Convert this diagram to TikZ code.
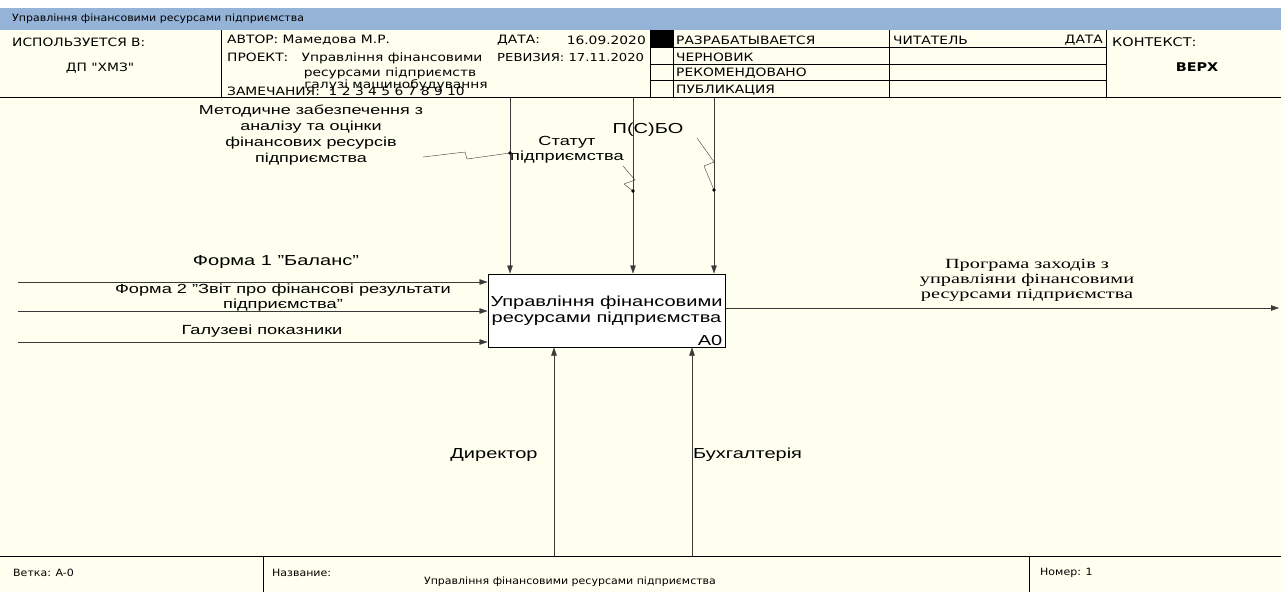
\documentclass[tikz,border=0pt]{standalone}
\usepackage{fontspec}
\setmainfont{Liberation Sans}[FakeStretch=1.38]
\newfontfamily\hdfont{DejaVu Sans}[FakeStretch=1.2]
\newfontfamily\ftfont{DejaVu Sans}[FakeStretch=1.1]
\newfontfamily\serfont{Liberation Serif}[FakeStretch=1.45]
\usetikzlibrary{arrows.meta,positioning,calc}
\definecolor{cream}{HTML}{FFFFF0}
\definecolor{barblue}{HTML}{95B3D7}
\definecolor{wire}{HTML}{3A3A3A}

\begin{document}
\begin{tikzpicture}[x=1pt,y=-1pt,
  arr/.style={wire, -{Triangle[length=8pt,width=5.5pt]}},
  lbl/.style={font=\fontsize{14.5}{15.5}\selectfont, align=center, inner sep=0pt},
  sml/.style={lbl, font=\fontsize{13.2}{15.5}\selectfont},
  hd/.style={font=\hdfont\fontsize{11.5}{12}\selectfont, inner sep=0pt, anchor=west},
  ft/.style={font=\ftfont\fontsize{10}{11}\selectfont, inner sep=0pt, anchor=west},
  zig/.style={wire, thin}]
  \useasboundingbox (0,0) rectangle (1281,592);
  \fill[white] (0,0) rectangle (1281,592);
  \fill[cream] (0,30) rectangle (1281,592);
  \fill[barblue] (0,8) rectangle (1281,30);
  \node[ft] (bar) at (12,19) {Управління фінансовими ресурсами підприємства};

  % title block
  \draw[thick] (0,97) -- (1281,97);
  \foreach \x in {221,650,673,889,1106} \draw (\x,30) -- (\x,97);
  \foreach \y in {47.5,64,80.5} \draw (650,\y) -- (1106,\y);
  \fill (650,30) rectangle (673,47.5);
  \node[hd] (used) at (12,42) {ИСПОЛЬЗУЕТСЯ В:};
  \node[hd, anchor=center] (dp) at (100,68) {ДП "ХМЗ"};
  \node[hd] (author) at (227,40) {АВТОР: Мамедова М.Р.};
  \node[hd] (proj) at (227,57) {ПРОЕКТ:};
  \node[hd, anchor=center] (pname) at (392,58) {Управління фінансовими};
  \node[hd, anchor=center] (pname2) at (390,73) {ресурсами підприємств};
  \node[hd, anchor=center] (pname3) at (396,85) {галузі машинобудування};
  \node[hd] (notes) at (227,91) {ЗАМЕЧАНИЯ:\ \ 1\ 2\ 3\ 4\ 5\ 6\ 7\ 8\ 9\ 10};
  \node[hd] (date) at (497,40) {ДАТА:};
  \node[hd, anchor=east] (dateval) at (646,40) {16.09.2020};
  \node[hd, font=\hdfont\fontsize{11}{12}\selectfont] (rev) at (497,57) {РЕВИЗИЯ: 17.11.2020};
  \node[hd] (st1) at (676,40) {РАЗРАБАТЫВАЕТСЯ};
  \node[hd] (st2) at (676,57) {ЧЕРНОВИК};
  \node[hd] (st3) at (676,73) {РЕКОМЕНДОВАНО};
  \node[hd] (st4) at (676,90) {ПУБЛИКАЦИЯ};
  \node[hd] (reader) at (893,40) {ЧИТАТЕЛЬ};
  \node[hd, anchor=east] (rdate) at (1103,40) {ДАТА};
  \node[hd, font=\hdfont\fontsize{12}{14}\selectfont] (ctx) at (1112,42) {КОНТЕКСТ:};
  \node[hd, anchor=center, font=\hdfont\bfseries\fontsize{12}{14}\selectfont] (top) at (1197,67) {ВЕРХ};

  % footer
  \draw[thick] (0,556) -- (1281,556);
  \foreach \x in {263,1029} \draw (\x,556) -- (\x,592);
  \node[ft] (branch) at (13,573) {Ветка: A-0};
  \node[ft] (nm) at (272,573) {Название:};
  \node[ft, anchor=center] (nmval) at (570,582) {Управління фінансовими ресурсами підприємства};
  \node[ft] (num) at (1040,573) {Номер: 1};

  % activity box
  \node[draw, line width=1pt, fill=white, minimum width=237pt, minimum height=73pt, inner sep=0pt,
        lbl] (a0) at (606.5,310.5) {Управління фінансовими\\ресурсами підприємства};
  \node[lbl, anchor=south east] at ([shift={(-3,-2)}]a0.south east) {A0};

  % inputs
  \coordinate (in1) at (18,282);
  \coordinate (in2) at (18,311);
  \coordinate (in3) at (18,342);
  \foreach \c in {in1,in2,in3} \draw[arr] (\c) -- (\c -| a0.west);
  \node[lbl] (f1) at (276,262) {Форма 1 "Баланс"};
  \node[sml] (f2) at (283,297.5) {Форма 2 "Звіт про фінансові результати\\підприємства"};
  \node[sml] (gp) at (262,331) {Галузеві показники};

  % controls
  \coordinate (ct1) at (510,98);
  \coordinate (ct2) at (633,98);
  \coordinate (ct3) at (714,98);
  \foreach \c in {ct1,ct2,ct3} \draw[arr] (\c) -- (\c |- a0.north);
  \node[sml, font=\fontsize{13}{16}\selectfont] (meth) at (311,135) {Методичне забезпечення з\\аналізу та оцінки\\фінансових ресурсів\\підприємства};
  \node[sml] (stat) at (567,150) {Статут\\підприємства};
  \node[lbl] (psbo) at (648,130) {П(С)БО};
  \coordinate (d1) at (510,153);
  \coordinate (d2) at (633,191);
  \coordinate (d3) at (714,190);
  \draw[zig] (423,157) -- (465,152) -- (467,159) -- (d1);
  \draw[zig] (623,166) -- (635,180) -- (624,184) -- (d2);
  \draw[zig] (697,138) -- (714,162) -- (704,166) -- (d3);
  \foreach \d in {d1,d2,d3} \fill (\d) circle (1.8pt);

  % output
  \coordinate (out) at (1279,308);
  \draw[arr] (a0.east |- out) -- (out);
  \node[lbl, font=\serfont\fontsize{14}{15}\selectfont] (prog) at (1027,280)
    {Програма заходів з\\управліяни фінансовими\\ресурсами підприємства};

  % mechanisms
  \coordinate (m1) at (554,556);
  \coordinate (m2) at (692,556);
  \foreach \c in {m1,m2} \draw[arr] (\c) -- (\c |- a0.south);
  \node[lbl] (dir) at (494,455) {Директор};
  \node[lbl, anchor=west] (buh) at (693,455) {Бухгалтерія};
\end{tikzpicture}
\end{document}
